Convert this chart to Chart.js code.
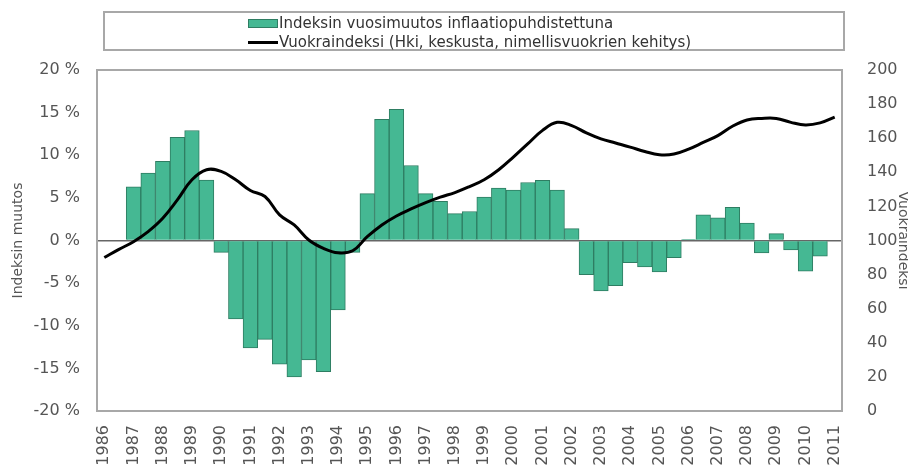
<!DOCTYPE html>
<html>
<head>
<meta charset="utf-8">
<script src="https://cdn.jsdelivr.net/npm/chart.js@4.4.1/dist/chart.umd.min.js"></script>
<style>
    body { margin: 0; background: #fff; }
    #wrap { position: relative; width: 908px; height: 469px; }
    #legenda {
        position: absolute; left: 103px; top: 11px; width: 738px; height: 36px;
        border: 2px solid #a8a8a8; font: 15px "DejaVu Sans", Verdana, sans-serif; color: #333;
    }
    .item { position: absolute; left: 143px; height: 18px; line-height: 18px; white-space: nowrap; }
    .item span { display: inline-block; width: 30px; vertical-align: middle; margin-right: 1px; }
</style>
</head>
<body>
<div id="wrap">
    <canvas id="chart" width="908" height="469"></canvas>
    <div id="legenda">
        <div class="item" style="top: 1px;"><span style="height: 7px; background: #45b893; border: 1px solid #2e7d62; width: 28px;"></span>Indeksin vuosimuutos inflaatiopuhdistettuna</div>
        <div class="item" style="top: 20px;"><span style="height: 3px; background: #000;"></span>Vuokraindeksi (Hki, keskusta, nimellisvuokrien kehitys)</div>
    </div>
</div>
<script>
// puolivuosittaiset jaksot 1986/1 ... 2011/1
const vuodet = [];
for (let v = 1986; v <= 2011; v++) vuodet.push(v);
const jaksot = [];
vuodet.forEach(v => { jaksot.push(v + '/1'); if (v < 2011) jaksot.push(v + '/2'); });

const muutos = [
    null, null, 6.3, 7.9, 9.3, 12.1, 12.9, 7.1, -1.4, -9.2,
    -12.6, -11.6, -14.5, -16.0, -14.0, -15.4, -8.15, -1.4, 5.5, 14.2,
    15.4, 8.8, 5.5, 4.6, 3.15, 3.4, 5.1, 6.15, 5.9, 6.8,
    7.05, 5.9, 1.4, -4.0, -5.9, -5.3, -2.6, -3.1, -3.7, -2.0,
    0.1, 3.0, 2.65, 3.9, 2.05, -1.45, 0.8, -1.1, -3.6, -1.85,
    null
];

const vuokraindeksi = [
    90, 94.8, 99.3, 105.2, 113, 123.8, 135.6, 141.5, 140.5, 135.6,
    129.3, 125.8, 115, 109.1, 100.3, 95.4, 92.8, 94, 102.2, 109.1,
    114.4, 118.5, 122.2, 125.4, 128.1, 131.6, 135.6, 141.5, 148.9, 156.8,
    164.6, 169.3, 167.4, 163.1, 159.6, 157.2, 154.8, 152.2, 150.3, 150.7,
    153.6, 157.5, 161.5, 167, 170.7, 171.6, 171.6, 169.3, 167.8, 169,
    172.4
];

const fontti = { family: '"DejaVu Sans", Verdana, sans-serif', size: 16 };
const otsikkoFontti = { family: '"DejaVu Sans", Verdana, sans-serif', size: 14 };

const kehys = {
    id: 'kehys',
    afterDraw(chart) {
        const { ctx, chartArea: a } = chart;
        ctx.save();
        ctx.strokeStyle = '#a8a8a8';
        ctx.lineWidth = 2;
        ctx.strokeRect(a.left, a.top, a.right - a.left, a.bottom - a.top);
        ctx.restore();
    }
};

new Chart(document.getElementById('chart').getContext('2d'), {
    type: 'bar',
    data: {
        labels: jaksot,
        datasets: [{
            type: 'line',
            label: 'Vuokraindeksi (Hki, keskusta, nimellisvuokrien kehitys)',
            data: vuokraindeksi,
            yAxisID: 'y1',
            borderColor: '#000',
            borderWidth: 3,
            pointRadius: 0,
            tension: 0.4,
            order: 0
        }, {
            label: 'Indeksin vuosimuutos inflaatiopuhdistettuna',
            data: muutos,
            yAxisID: 'y',
            backgroundColor: '#45b893',
            borderColor: '#2e7d62',
            borderWidth: 1,
            barPercentage: 1,
            categoryPercentage: 1,
            order: 1
        }]
    },
    options: {
        responsive: false,
        animation: false,
        layout: { padding: { top: 70, bottom: 0, left: 0, right: 0 } },
        plugins: { legend: { display: false }, tooltip: { enabled: false } },
        scales: {
            x: {
                grid: { display: false },
                border: { display: false },
                ticks: {
                    autoSkip: false, maxRotation: 90, minRotation: 90, padding: 6,
                    font: fontti, color: '#555',
                    callback: (v, i) => i % 2 === 0 ? vuodet[i / 2] : ''
                },
                afterFit: s => { s.height = 58; }
            },
            y: {
                position: 'left', min: -20, max: 20,
                grid: {
                    drawTicks: false, lineWidth: 1.5,
                    color: c => c.tick && c.tick.value === 0 ? '#666' : 'rgba(0,0,0,0)'
                },
                border: { display: false },
                ticks: { stepSize: 5, padding: 17, font: fontti, color: '#555', callback: v => v + ' %' },
                title: { display: true, text: 'Indeksin muutos', font: otsikkoFontti, color: '#555', padding: { top: 10 } },
                afterFit: s => { s.width = 97; }
            },
            y1: {
                position: 'right', min: 0, max: 200,
                grid: { display: false },
                border: { display: false },
                ticks: { stepSize: 20, padding: 17, font: fontti, color: '#555' },
                title: { display: true, text: 'Vuokraindeksi', font: otsikkoFontti, color: '#555', padding: { top: -3 } },
                afterFit: s => { s.width = 66; }
            }
        }
    },
    plugins: [kehys]
});
</script>
</body>
</html>
